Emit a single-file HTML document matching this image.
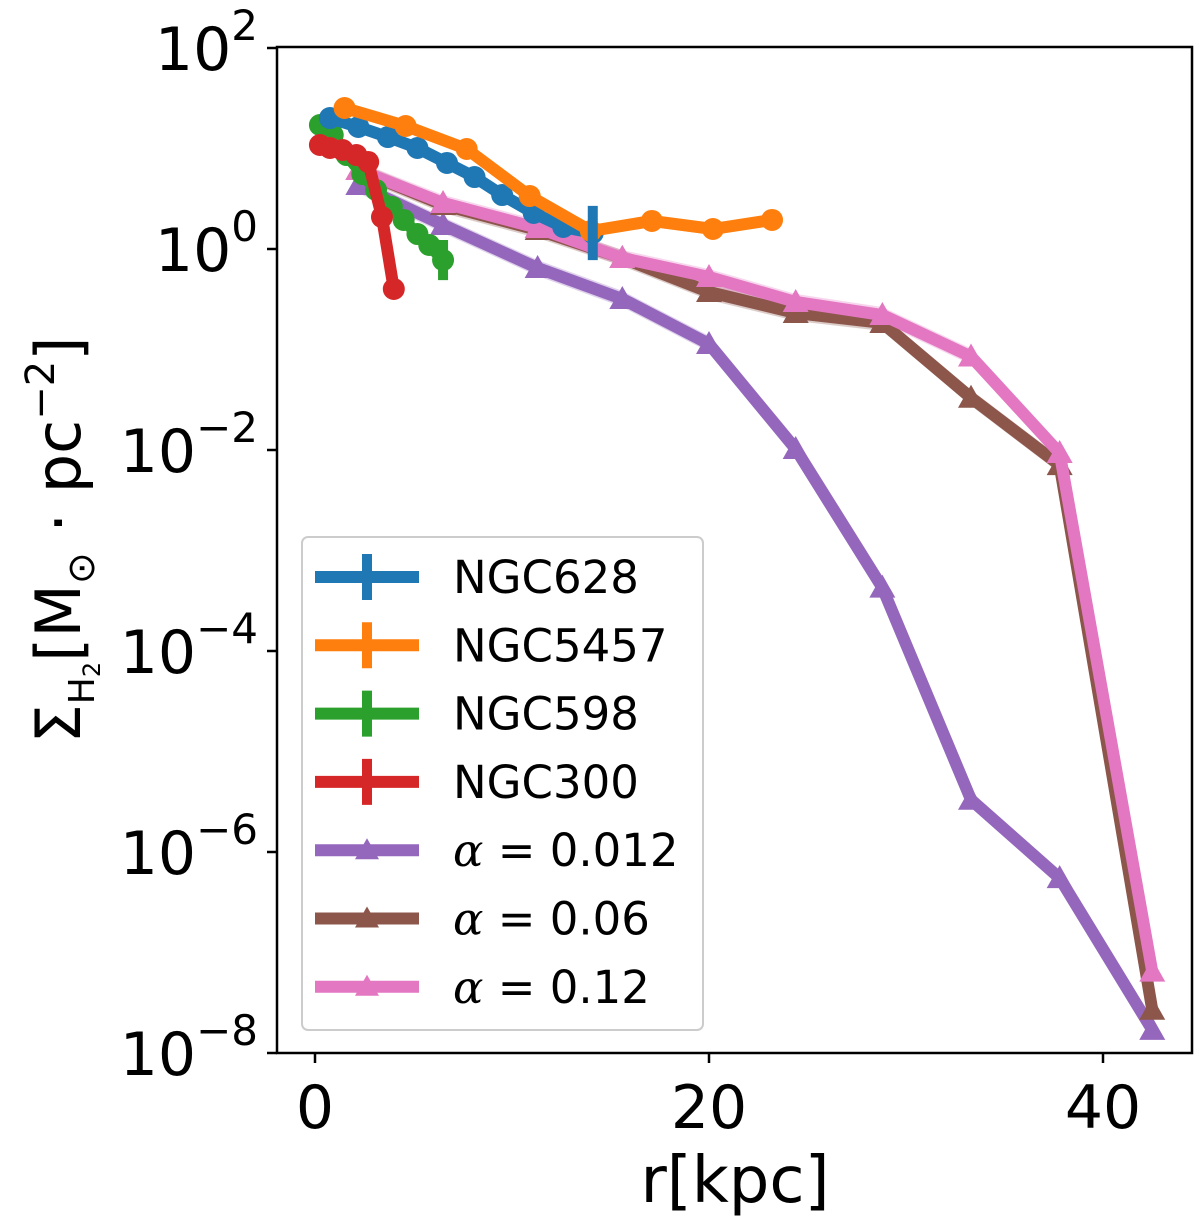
<!DOCTYPE html>
<html><head><meta charset="utf-8">
<style>
body{margin:0;background:#fff;}
svg{display:block;font-family:"DejaVu Sans","Liberation Sans",sans-serif;}
</style></head>
<body>
<svg id="chart" width="1200" height="1224" viewBox="0 0 1200 1224" xmlns="http://www.w3.org/2000/svg">
<g id="bands"></g>
<g id="series"></g>
<rect x="277" y="47" width="915" height="1006" fill="none" stroke="#000" stroke-width="2.5"/>
<g id="axes"></g>
<text x="735" y="1202" font-size="64" text-anchor="middle">r[kpc]</text>
<text transform="translate(80,540) rotate(-90)" font-size="62" text-anchor="middle">Σ<tspan font-size="36" dy="14">H</tspan><tspan font-size="24" dy="6">2</tspan><tspan dy="-20">[M</tspan><tspan font-size="38" dy="14">⊙</tspan><tspan dy="-14"> · pc</tspan><tspan font-size="40" dy="-26">−2</tspan><tspan dy="26">]</tspan></text>
<g id="legend"></g>
</svg>
<script>
const xTicks=[0,20,40];
const yTickExp=[2,0,-2,-4,-6,-8];
const n628X=[0.76,2.2,3.7,5.2,6.7,8.1,9.5,11.1,12.6,14.1];
const n628Y=[1.303,1.214,1.114,1.005,0.856,0.716,0.537,0.358,0.219,0.159];
const n5457X=[1.5,4.6,7.7,10.9,14.0,17.1,20.2,23.2];
const n5457Y=[1.403,1.224,0.995,0.527,0.179,0.279,0.199,0.289];
const n598X=[0.25,0.9,1.6,2.4,3.1,3.9,4.5,5.2,5.8,6.5];
const n598Y=[1.234,1.134,0.935,0.746,0.587,0.418,0.289,0.149,0.040,-0.110];
const n300X=[0.25,0.76,1.4,2.1,2.7,3.4,4.0];
const n300Y=[1.035,1.005,0.985,0.935,0.866,0.318,-0.398];
const modX=[2.2,6.5,11.3,15.6,20,24.4,28.8,33.3,37.8,42.5];
const a012Y=[0.637,0.239,-0.189,-0.497,-0.945,-1.99,-3.37,-5.48,-6.26,-7.77];
const a06Y=[0.786,0.438,0.189,-0.09,-0.428,-0.637,-0.736,-1.48,-2.15,-7.57];
const a12Y=[0.786,0.458,0.209,-0.09,-0.279,-0.527,-0.657,-1.07,-2.03,-7.19];
const legendLabels=["NGC628","NGC5457","NGC598","NGC300","α = 0.012","α = 0.06","α = 0.12"];

const X=v=>315+v*19.7;
const Y=l=>48+(2-l)*100.5;
const NS="http://www.w3.org/2000/svg";
function mk(tag,attrs,parent){const e=document.createElementNS(NS,tag);for(const k in attrs)e.setAttribute(k,attrs[k]);parent.appendChild(e);return e;}
const axes=document.getElementById('axes'),ser=document.getElementById('series'),bands=document.getElementById('bands'),leg=document.getElementById('legend');

xTicks.forEach(t=>{
 const l=mk('line',{x1:X(t),x2:X(t),y1:1053,y2:1063,stroke:'#000','stroke-width':2.5},axes);
 
 
 const tx=mk('text',{x:X(t),y:1128,'font-size':60,'text-anchor':'middle'},axes);tx.textContent=t;
 
 
});
yTickExp.forEach(e=>{
 const l=mk('line',{x1:267,x2:277,y1:Y(e),y2:Y(e),stroke:'#000','stroke-width':2.5},axes);
 
 
 const tx=mk('text',{x:258,y:Y(e)+22,'font-size':60,'text-anchor':'end'},axes);
 
 
 const a=mk('tspan',{},tx);a.textContent='10';
 const b=mk('tspan',{'font-size':42,dy:-30},tx);b.textContent=(e<0?'−':'')+Math.abs(e);
});

function band(xs,ys,w,color){
 let d='';xs.forEach((x,i)=>d+=(i?'L':'M')+X(x)+','+Y(ys[i]+w));
 for(let i=xs.length-1;i>=0;i--)d+='L'+X(xs[i])+','+Y(ys[i]-w);
 const p=mk('path',{d:d+'Z',fill:color,opacity:0.3,stroke:'none'},bands);
 
 
}
function line(xs,ys,color,marker,name){
 const g=mk('g',{},ser);
 
 
 mk('polyline',{points:xs.map((x,i)=>X(x)+','+Y(ys[i])).join(' '),fill:'none',stroke:color,'stroke-width':12,'stroke-linejoin':'round'},g);
 xs.forEach((x,i)=>{
  const cx=X(x),cy=Y(ys[i]);
  let m;
  if(marker==='o') m=mk('circle',{cx:cx,cy:cy,r:11,fill:color},g);
  else m=mk('polygon',{points:`${cx},${cy-13} ${cx-13},${cy+10} ${cx+13},${cy+10}`,fill:color},g);
  
  
 });
 return g;
}
const C={b:'#1f77b4',o:'#ff7f0e',g:'#2ca02c',r:'#d62728',p:'#9467bd',br:'#8c564b',pk:'#e377c2'};
band(modX,a012Y,0.08,C.p);band(modX,a06Y,0.08,C.br);band(modX,a12Y,0.08,C.pk);band(n5457X,n5457Y,0.06,C.o);
line(modX,a012Y,C.p,'^','series-alpha-0.012');
line(modX,a06Y,C.br,'^','series-alpha-0.06');
line(modX,a12Y,C.pk,'^','series-alpha-0.12');
line(n598X,n598Y,C.g,'o','series-ngc598');
line(n300X,n300Y,C.r,'o','series-ngc300');
line(n628X,n628Y,C.b,'o','series-ngc628');
line(n5457X,n5457Y,C.o,'o','series-ngc5457');
[[n628X,n628Y,C.b,0.27],[n598X,n598Y,C.g,0.2]].forEach(([xs,ys,c,e])=>{
 const i=xs.length-1;
 const eb=mk('line',{x1:X(xs[i]),x2:X(xs[i]),y1:Y(ys[i]+e),y2:Y(ys[i]-e),stroke:c,'stroke-width':10},ser);
 
 
});

const lb=mk('rect',{x:302,y:537,width:401,height:493,rx:6,fill:'#fff','fill-opacity':0.8,stroke:'#ccc','stroke-width':2},leg);


const lc=[C.b,C.o,C.g,C.r,C.p,C.br,C.pk];
legendLabels.forEach((t,i)=>{
 const y=577+i*68.3;
 const g=mk('g',{},leg);
 
 
 mk('line',{x1:315,x2:419,y1:y,y2:y,stroke:lc[i],'stroke-width':12},g);
 if(i<4) mk('line',{x1:367,x2:367,y1:y-23,y2:y+23,stroke:lc[i],'stroke-width':10},g);
 else mk('polygon',{points:`367,${y-12} 355,${y+9} 379,${y+9}`,fill:lc[i]},g);
 const tx=mk('text',{x:453,y:y+16,'font-size':45},g);
 if(i<4) tx.textContent=t;
 else{const a=mk('tspan',{'font-style':'italic','font-family':'"DejaVu Serif",serif'},tx);a.textContent='α';const b=mk('tspan',{},tx);b.textContent=t.slice(1);}
});
</script>
</body></html>
